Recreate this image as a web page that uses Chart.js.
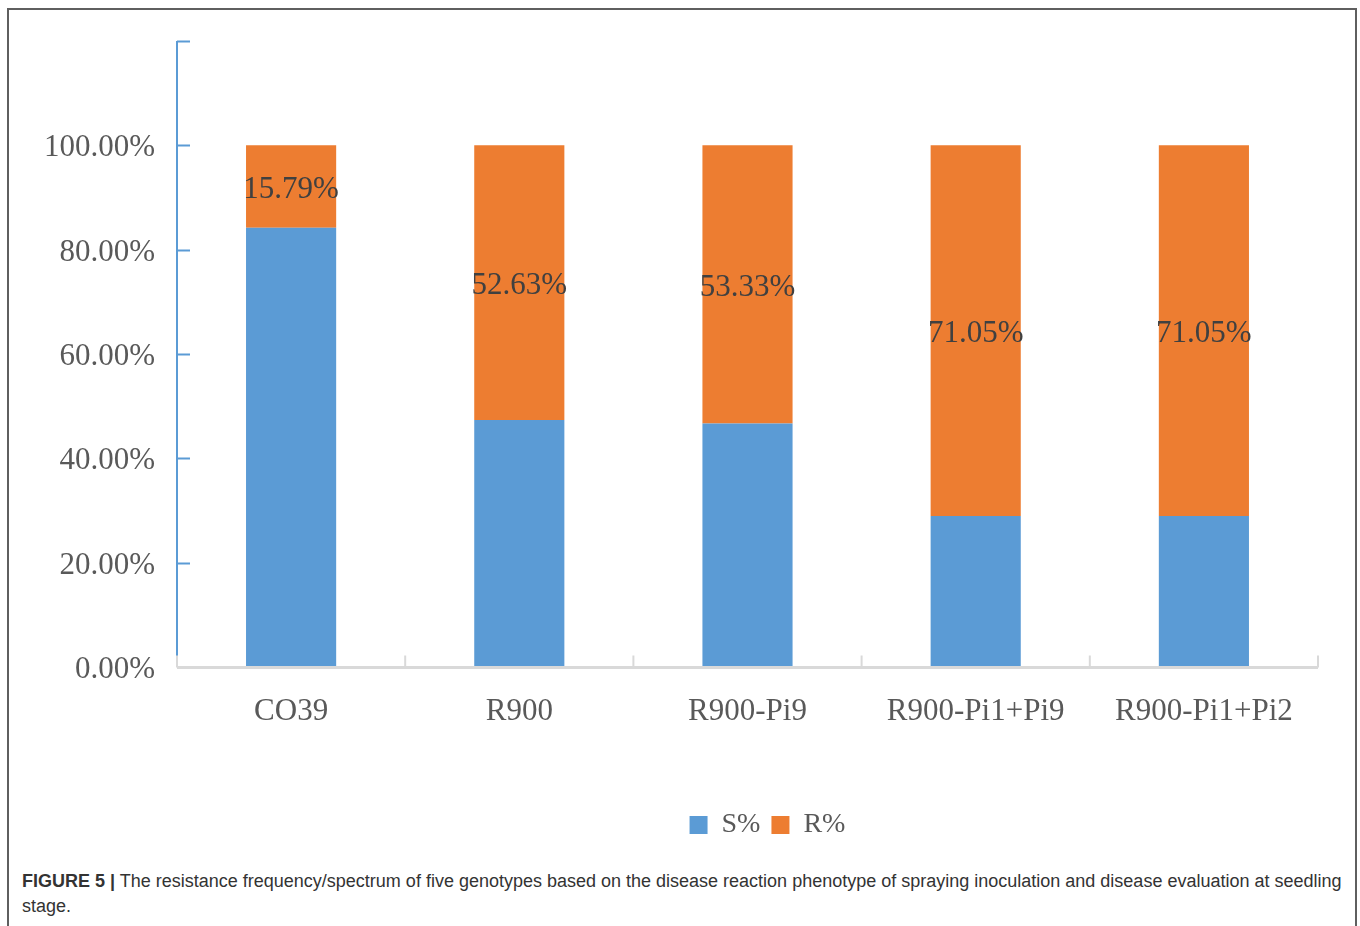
<!DOCTYPE html>
<html>
<head>
<meta charset="utf-8">
<script src="https://cdn.jsdelivr.net/npm/chart.js@4/dist/chart.umd.min.js"></script>
<style>
  html, body { margin: 0; padding: 0; background: #fff; }
  #frame {
    position: absolute; left: 7px; top: 8px; width: 1346px; height: 1000px;
    border: 2px solid #5f5f5f; border-bottom: none;
  }
  #wrap { position: absolute; left: 0; top: 0; width: 1360px; height: 860px; }
  #caption {
    position: absolute; left: 22px; top: 869px;
    font-family: "Liberation Sans Narrow", "Liberation Sans", Arial, sans-serif;
    font-size: 18px; line-height: 25px; color: #333;
    white-space: nowrap;
  }
  #caption b { font-weight: bold; }
</style>
</head>
<body>
<div id="frame"></div>
<div id="wrap"><canvas id="chart" width="1360" height="860"></canvas></div>
<div id="caption"><b>FIGURE 5 |</b> The resistance frequency/spectrum of five genotypes based on the disease reaction phenotype of spraying inoculation and disease evaluation at seedling<br>stage.</div>
<script>
// Genotypes and their susceptible / resistant shares (%)
const genotypes = ['CO39', 'R900', 'R900-Pi9', 'R900-Pi1+Pi9', 'R900-Pi1+Pi2'];
const susceptiblePct = [84.21, 47.37, 46.67, 28.95, 28.95];
const resistantPct = [15.79, 52.63, 53.33, 71.05, 71.05];
const yTicks = [0, 20, 40, 60, 80, 100, 120];

const serif = '"Liberation Serif", "DejaVu Serif", serif';

// Axis lines with inward tick marks (blue value axis, grey category axis)
const axisDecor = {
  id: 'axisDecor',
  afterDatasetsDraw(chart) {
    const { ctx, chartArea, scales } = chart;
    const y = scales.y;
    ctx.save();
    // value axis
    ctx.strokeStyle = '#5b9bd5';
    ctx.lineWidth = 2;
    ctx.beginPath();
    ctx.moveTo(chartArea.left, y.getPixelForValue(120));
    ctx.lineTo(chartArea.left, y.getPixelForValue(0));
    ctx.stroke();
    yTicks.forEach(v => {
      if (v === 0) return;
      const py = Math.round(y.getPixelForValue(v)) + 0.5;
      ctx.beginPath();
      ctx.moveTo(chartArea.left, py);
      ctx.lineTo(chartArea.left + 13, py);
      ctx.stroke();
    });
    // category axis
    ctx.strokeStyle = '#d9d9d9';
    ctx.lineWidth = 3;
    const by = y.getPixelForValue(0) + 0.5;
    ctx.beginPath();
    ctx.moveTo(chartArea.left, by);
    ctx.lineTo(chartArea.right, by);
    ctx.stroke();
    ctx.lineWidth = 2;
    const n = genotypes.length;
    const step = (chartArea.right - chartArea.left) / n;
    for (let i = 0; i <= n; i++) {
      const px = chartArea.left + i * step;
      ctx.beginPath();
      ctx.moveTo(px, by);
      ctx.lineTo(px, by - 12);
      ctx.stroke();
    }
    ctx.restore();
  }
};

// Resistant share written inside each orange segment
const segmentLabels = {
  id: 'segmentLabels',
  afterDatasetsDraw(chart) {
    const { ctx } = chart;
    const meta = chart.getDatasetMeta(1);
    ctx.save();
    ctx.font = '31px ' + serif;
    ctx.fillStyle = '#404040';
    ctx.textAlign = 'center';
    ctx.textBaseline = 'middle';
    meta.data.forEach((bar, i) => {
      const v = chart.data.datasets[1].data[i];
      ctx.fillText(v.toFixed(2) + '%', bar.x, (bar.y + bar.base) / 2 + 3);
    });
    ctx.restore();
  }
};

// Centre the legend under the plot area rather than the whole canvas
const legendShift = {
  id: 'legendShift',
  beforeDraw(chart) {
    const lg = chart.legend;
    if (!lg || lg._shifted) return;
    const ca = chart.chartArea;
    const dx = (ca.left + ca.right) / 2 + 20 - (lg.left + lg.right) / 2;
    lg.left += dx;
    lg.right += dx;
    lg._shifted = true;
  }
};

new Chart(document.getElementById('chart'), {
  type: 'bar',
  data: {
    labels: genotypes,
    datasets: [
      { label: 'S%', data: susceptiblePct, backgroundColor: '#5b9bd5',
        barPercentage: 0.395, categoryPercentage: 1 },
      { label: 'R%', data: resistantPct, backgroundColor: '#ed7d31',
        barPercentage: 0.395, categoryPercentage: 1 }
    ]
  },
  options: {
    responsive: false,
    animation: false,
    layout: { padding: { top: 41, right: 42, left: 0, bottom: 11 } },
    plugins: {
      tooltip: { enabled: false },
      legend: {
        position: 'bottom',
        labels: {
          boxWidth: 18, boxHeight: 18, padding: 11,
          color: '#595959',
          font: { family: serif, size: 28 }
        }
      }
    },
    scales: {
      x: {
        stacked: true,
        grid: { display: false, drawTicks: false },
        border: { display: false },
        ticks: { color: '#595959', font: { family: serif, size: 31 }, padding: 26, maxRotation: 0 },
        afterFit(scale) { scale.height = 133; }
      },
      y: {
        stacked: true,
        min: 0, max: 120,
        grid: { display: false, drawTicks: false },
        border: { display: false },
        ticks: {
          stepSize: 20,
          padding: 22,
          labelOffset: 3,
          color: '#595959',
          font: { family: serif, size: 31 },
          callback: v => (v === 120 ? '' : v.toFixed(2) + '%')
        },
        afterFit(scale) { scale.width = 177; }
      }
    }
  },
  plugins: [axisDecor, segmentLabels, legendShift]
});
</script>
</body>
</html>
